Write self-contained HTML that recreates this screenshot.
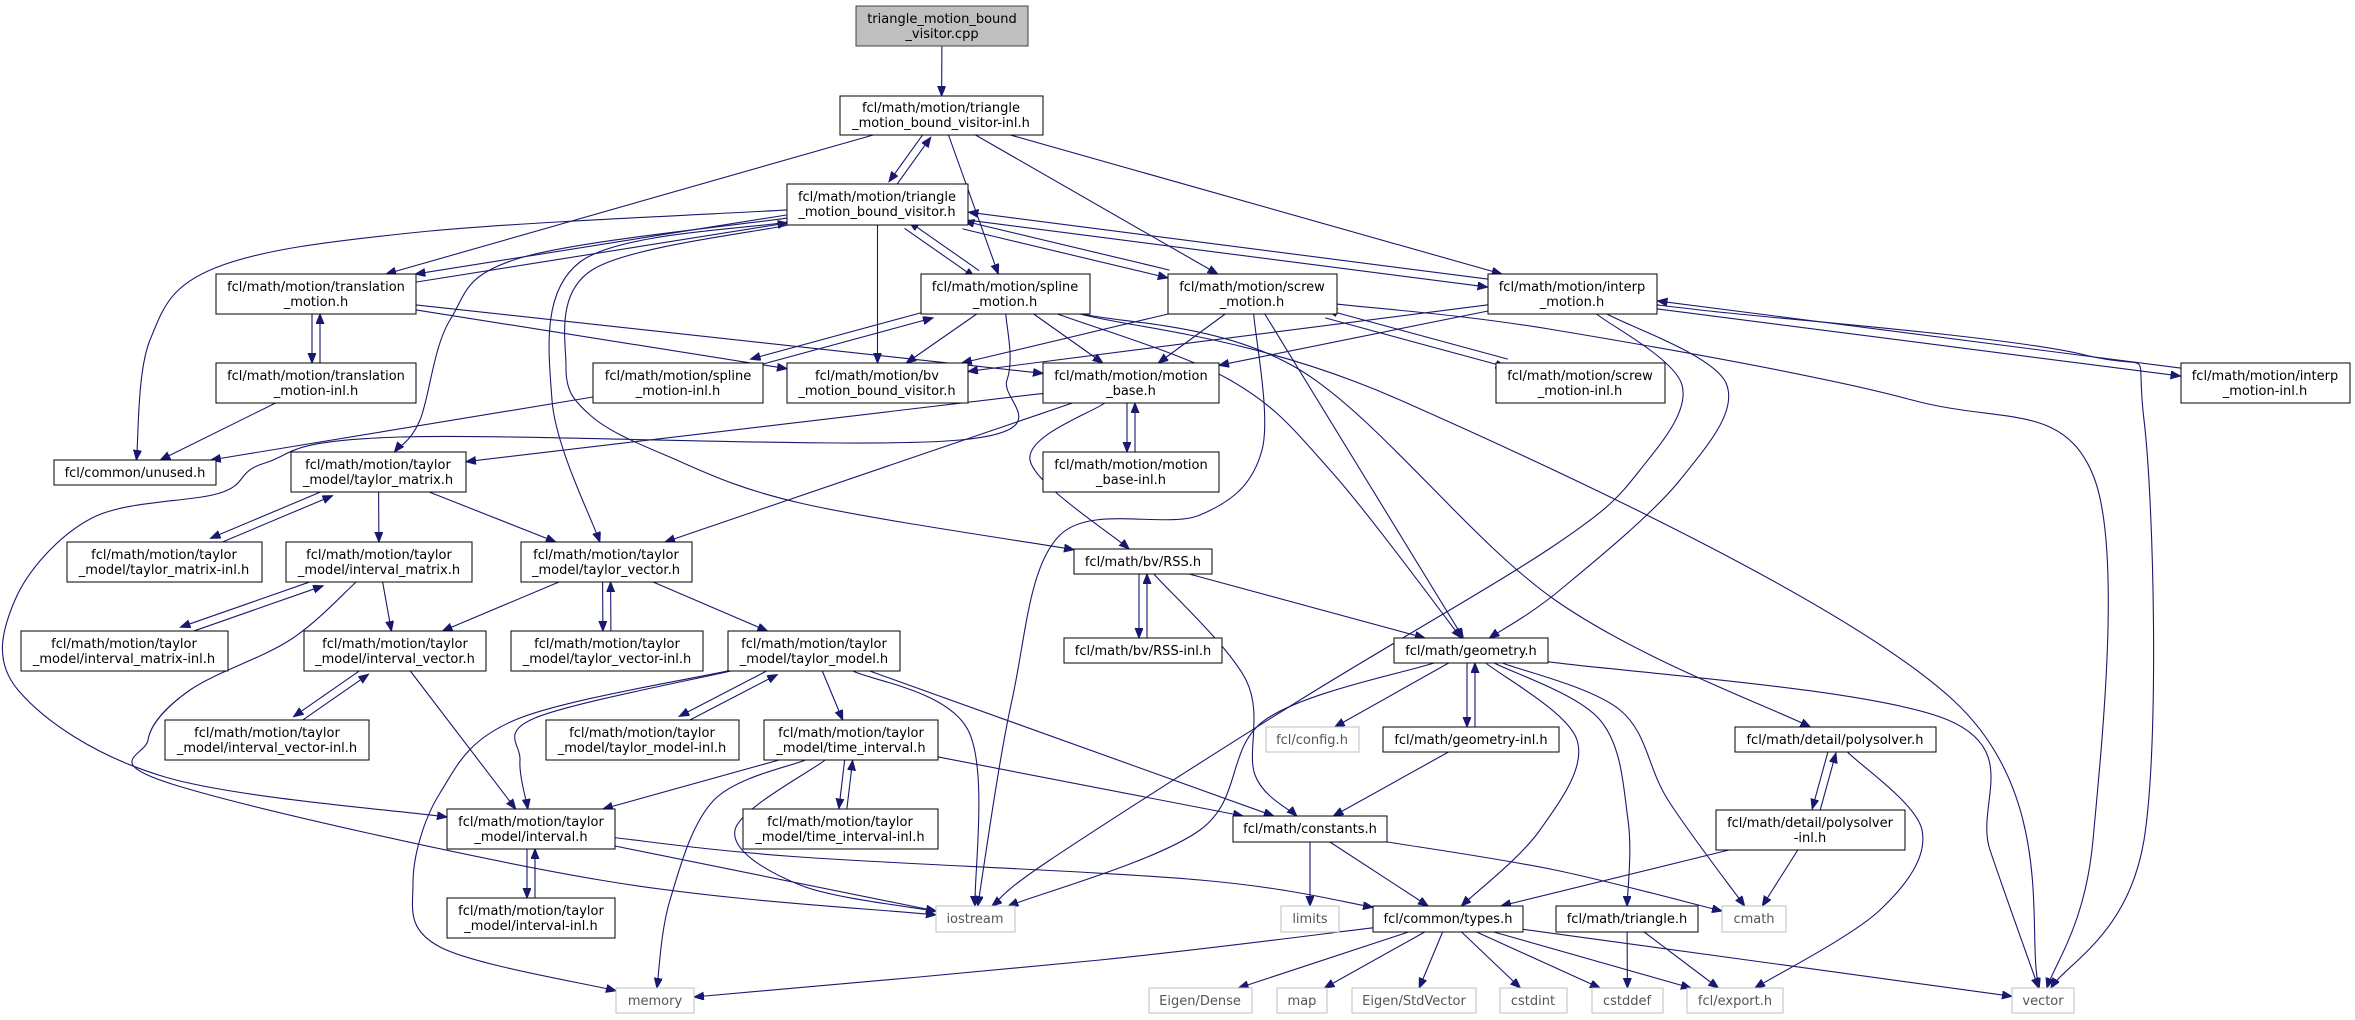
<!DOCTYPE html>
<html><head><meta charset="utf-8"><style>
html,body{margin:0;padding:0;background:#fff;}
svg{display:block;}
text{font-family:"DejaVu Sans","Liberation Sans",sans-serif;font-size:13px;fill:#000;}
.g text{fill:#555;}
</style></head><body>
<svg id="s" xmlns="http://www.w3.org/2000/svg" width="2355" height="1020" viewBox="0 0 2355 1020">
<defs><marker id="ar" markerUnits="userSpaceOnUse" markerWidth="12" markerHeight="10" refX="10" refY="4" orient="auto"><path d="M0,0L10,4L0,8z" fill="#191970" stroke="#191970"/></marker></defs>
<g id="edges" fill="none" stroke="#191970" stroke-width="1.1"></g>
<g id="nodes" text-anchor="middle">
<g><rect x="856" y="6" width="172" height="40" fill="#bfbfbf" stroke="#404040"/><text x="942" y="23">triangle_motion_bound</text><text x="942" y="38">_visitor.cpp</text></g>
<g><rect x="840" y="96" width="203" height="39" fill="#fff" stroke="#000"/><text x="941" y="112">fcl/math/motion/triangle</text><text x="941" y="127">_motion_bound_visitor-inl.h</text></g>
<g><rect x="787" y="184" width="181" height="41" fill="#fff" stroke="#000"/><text x="877" y="201">fcl/math/motion/triangle</text><text x="877" y="216">_motion_bound_visitor.h</text></g>
<g><rect x="216" y="274" width="200" height="40" fill="#fff" stroke="#000"/><text x="316" y="291">fcl/math/motion/translation</text><text x="316" y="306">_motion.h</text></g>
<g><rect x="216" y="363" width="200" height="40" fill="#fff" stroke="#000"/><text x="316" y="380">fcl/math/motion/translation</text><text x="316" y="395">_motion-inl.h</text></g>
<g><rect x="921" y="274" width="169" height="40" fill="#fff" stroke="#000"/><text x="1005" y="291">fcl/math/motion/spline</text><text x="1005" y="306">_motion.h</text></g>
<g><rect x="593" y="363" width="170" height="40" fill="#fff" stroke="#000"/><text x="678" y="380">fcl/math/motion/spline</text><text x="678" y="395">_motion-inl.h</text></g>
<g><rect x="1168" y="274" width="169" height="40" fill="#fff" stroke="#000"/><text x="1252" y="291">fcl/math/motion/screw</text><text x="1252" y="306">_motion.h</text></g>
<g><rect x="1496" y="363" width="169" height="40" fill="#fff" stroke="#000"/><text x="1580" y="380">fcl/math/motion/screw</text><text x="1580" y="395">_motion-inl.h</text></g>
<g><rect x="1488" y="274" width="169" height="40" fill="#fff" stroke="#000"/><text x="1572" y="291">fcl/math/motion/interp</text><text x="1572" y="306">_motion.h</text></g>
<g><rect x="2181" y="363" width="169" height="40" fill="#fff" stroke="#000"/><text x="2265" y="380">fcl/math/motion/interp</text><text x="2265" y="395">_motion-inl.h</text></g>
<g><rect x="787" y="363" width="181" height="40" fill="#fff" stroke="#000"/><text x="877" y="380">fcl/math/motion/bv</text><text x="877" y="395">_motion_bound_visitor.h</text></g>
<g><rect x="1043" y="363" width="176" height="40" fill="#fff" stroke="#000"/><text x="1131" y="380">fcl/math/motion/motion</text><text x="1131" y="395">_base.h</text></g>
<g><rect x="1043" y="452" width="176" height="40" fill="#fff" stroke="#000"/><text x="1131" y="469">fcl/math/motion/motion</text><text x="1131" y="484">_base-inl.h</text></g>
<g><rect x="54" y="460" width="162" height="25" fill="#fff" stroke="#000"/><text x="135" y="477">fcl/common/unused.h</text></g>
<g><rect x="291" y="452" width="175" height="40" fill="#fff" stroke="#000"/><text x="378" y="469">fcl/math/motion/taylor</text><text x="378" y="484">_model/taylor_matrix.h</text></g>
<g><rect x="67" y="542" width="195" height="40" fill="#fff" stroke="#000"/><text x="164" y="559">fcl/math/motion/taylor</text><text x="164" y="574">_model/taylor_matrix-inl.h</text></g>
<g><rect x="286" y="542" width="186" height="40" fill="#fff" stroke="#000"/><text x="379" y="559">fcl/math/motion/taylor</text><text x="379" y="574">_model/interval_matrix.h</text></g>
<g><rect x="521" y="542" width="171" height="40" fill="#fff" stroke="#000"/><text x="606" y="559">fcl/math/motion/taylor</text><text x="606" y="574">_model/taylor_vector.h</text></g>
<g><rect x="21" y="631" width="207" height="40" fill="#fff" stroke="#000"/><text x="124" y="648">fcl/math/motion/taylor</text><text x="124" y="663">_model/interval_matrix-inl.h</text></g>
<g><rect x="304" y="631" width="182" height="40" fill="#fff" stroke="#000"/><text x="395" y="648">fcl/math/motion/taylor</text><text x="395" y="663">_model/interval_vector.h</text></g>
<g><rect x="511" y="631" width="192" height="40" fill="#fff" stroke="#000"/><text x="607" y="648">fcl/math/motion/taylor</text><text x="607" y="663">_model/taylor_vector-inl.h</text></g>
<g><rect x="728" y="631" width="172" height="40" fill="#fff" stroke="#000"/><text x="814" y="648">fcl/math/motion/taylor</text><text x="814" y="663">_model/taylor_model.h</text></g>
<g><rect x="165" y="720" width="204" height="40" fill="#fff" stroke="#000"/><text x="267" y="737">fcl/math/motion/taylor</text><text x="267" y="752">_model/interval_vector-inl.h</text></g>
<g><rect x="546" y="720" width="193" height="40" fill="#fff" stroke="#000"/><text x="642" y="737">fcl/math/motion/taylor</text><text x="642" y="752">_model/taylor_model-inl.h</text></g>
<g><rect x="764" y="720" width="174" height="40" fill="#fff" stroke="#000"/><text x="851" y="737">fcl/math/motion/taylor</text><text x="851" y="752">_model/time_interval.h</text></g>
<g><rect x="447" y="809" width="168" height="40" fill="#fff" stroke="#000"/><text x="531" y="826">fcl/math/motion/taylor</text><text x="531" y="841">_model/interval.h</text></g>
<g><rect x="743" y="809" width="195" height="40" fill="#fff" stroke="#000"/><text x="840" y="826">fcl/math/motion/taylor</text><text x="840" y="841">_model/time_interval-inl.h</text></g>
<g><rect x="447" y="898" width="168" height="40" fill="#fff" stroke="#000"/><text x="531" y="915">fcl/math/motion/taylor</text><text x="531" y="930">_model/interval-inl.h</text></g>
<g><rect x="1074" y="549" width="138" height="25" fill="#fff" stroke="#000"/><text x="1143" y="566">fcl/math/bv/RSS.h</text></g>
<g><rect x="1064" y="638" width="158" height="25" fill="#fff" stroke="#000"/><text x="1143" y="655">fcl/math/bv/RSS-inl.h</text></g>
<g><rect x="1394" y="638" width="154" height="25" fill="#fff" stroke="#000"/><text x="1471" y="655">fcl/math/geometry.h</text></g>
<g><rect x="1383" y="727" width="176" height="25" fill="#fff" stroke="#000"/><text x="1471" y="744">fcl/math/geometry-inl.h</text></g>
<g><rect x="1233" y="816" width="154" height="26" fill="#fff" stroke="#000"/><text x="1310" y="833">fcl/math/constants.h</text></g>
<g><rect x="1373" y="906" width="150" height="26" fill="#fff" stroke="#000"/><text x="1448" y="923">fcl/common/types.h</text></g>
<g><rect x="1735" y="727" width="201" height="25" fill="#fff" stroke="#000"/><text x="1835" y="744">fcl/math/detail/polysolver.h</text></g>
<g><rect x="1716" y="810" width="189" height="40" fill="#fff" stroke="#000"/><text x="1810" y="827">fcl/math/detail/polysolver</text><text x="1810" y="842">-inl.h</text></g>
<g><rect x="1556" y="906" width="142" height="26" fill="#fff" stroke="#000"/><text x="1627" y="923">fcl/math/triangle.h</text></g>
<g class="g">
<rect x="1266" y="727" width="93" height="25" fill="#fff" stroke="#bfbfbf"/><text x="1312" y="744">fcl/config.h</text>
<rect x="616" y="988" width="78" height="25" fill="#fff" stroke="#bfbfbf"/><text x="655" y="1005">memory</text>
<rect x="936" y="906" width="79" height="26" fill="#fff" stroke="#bfbfbf"/><text x="975" y="923">iostream</text>
<rect x="1281" y="906" width="58" height="26" fill="#fff" stroke="#bfbfbf"/><text x="1310" y="923">limits</text>
<rect x="1722" y="906" width="64" height="26" fill="#fff" stroke="#bfbfbf"/><text x="1754" y="923">cmath</text>
<rect x="1149" y="988" width="103" height="25" fill="#fff" stroke="#bfbfbf"/><text x="1200" y="1005">Eigen/Dense</text>
<rect x="1277" y="988" width="50" height="25" fill="#fff" stroke="#bfbfbf"/><text x="1302" y="1005">map</text>
<rect x="1352" y="988" width="124" height="25" fill="#fff" stroke="#bfbfbf"/><text x="1414" y="1005">Eigen/StdVector</text>
<rect x="1500" y="988" width="67" height="25" fill="#fff" stroke="#bfbfbf"/><text x="1533" y="1005">cstdint</text>
<rect x="1592" y="988" width="71" height="25" fill="#fff" stroke="#bfbfbf"/><text x="1627" y="1005">cstddef</text>
<rect x="1687" y="988" width="96" height="25" fill="#fff" stroke="#bfbfbf"/><text x="1735" y="1005">fcl/export.h</text>
<rect x="2012" y="988" width="62" height="25" fill="#fff" stroke="#bfbfbf"/><text x="2043" y="1005">vector</text>
</g>
</g>
</svg>
<script>
var N={cpp:[856,6,1028,46],tinl:[840,96,1043,135],tmbv:[787,184,968,225],trans:[216,274,416,314],transinl:[216,363,416,403],
spline:[921,274,1090,314],splineinl:[593,363,763,403],screw:[1168,274,1337,314],screwinl:[1496,363,1665,403],interp:[1488,274,1657,314],interpinl:[2181,363,2350,403],
bv:[787,363,968,403],mb:[1043,363,1219,403],mbinl:[1043,452,1219,492],unused:[54,460,216,485],tm:[291,452,466,492],tminl:[67,542,262,582],im:[286,542,472,582],
tv:[521,542,692,582],iminl:[21,631,228,671],iv:[304,631,486,671],tvinl:[511,631,703,671],tmod:[728,631,900,671],ivinl:[165,720,369,760],tmodinl:[546,720,739,760],
ti:[764,720,938,760],ival:[447,809,615,849],tiinl:[743,809,938,849],ivalinl:[447,898,615,938],memory:[616,988,694,1013],rss:[1074,549,1212,574],rssinl:[1064,638,1222,663],
geom:[1394,638,1548,663],geominl:[1383,727,1559,752],config:[1266,727,1359,752],consts:[1233,816,1387,842],iostream:[936,906,1015,932],limits:[1281,906,1339,932],
types:[1373,906,1523,932],dense:[1149,988,1252,1013],map:[1277,988,1327,1013],stdvec:[1352,988,1476,1013],cstdint:[1500,988,1567,1013],poly:[1735,727,1936,752],
polyinl:[1716,810,1905,850],tri:[1556,906,1698,932],cmath:[1722,906,1786,932],cstddef:[1592,988,1663,1013],exp:[1687,988,1783,1013],vector:[2012,988,2074,1013]};
var E=[["cpp","tinl"],["tinl","trans"],["tinl","tmbv"],["tinl","spline"],["tinl","screw"],["tinl","interp"],
["tmbv","tinl"],["tmbv","unused",[[420,232],[215,268],[150,340]]],["tmbv","trans"],["tmbv","spline"],["tmbv","screw"],["tmbv","interp"],["tmbv","bv"],
["tmbv","tm",[[520,258],[450,320],[420,420]]],["tmbv","tv",[[580,262],[552,400]]],["tmbv","rss",[[592,270],[566,367],[590,415],[665,455],[800,503]]],
["trans","tmbv"],["trans","transinl"],["trans","bv"],["trans","mb"],["transinl","trans"],["transinl","unused"],
["spline","tmbv"],["spline","splineinl"],["spline","bv"],["spline","mb"],["spline","ival",[[1007,380],[960,440],[400,437],[265,463],[220,493],[92,518],[15,600],[18,690],[165,777]]],
["spline","geom",[[1230,380],[1330,470]]],["spline","poly",[[1300,370],[1555,600]]],["spline","vector",[[1400,400],[1953,700]]],["splineinl","spline"],["splineinl","unused"],
["screw","tmbv"],["screw","screwinl"],["screw","bv"],["screw","mb"],["screw","geom"],["screw","iostream",[[1262,450],[1200,515],[1060,535],[1012,700]]],
["screw","vector",[[1555,330],[1912,400],[2093,475],[2093,840]]],["screwinl","screw"],
["interp","tmbv"],["interp","interpinl"],["interp","bv"],["interp","mb"],["interp","geom",[[1726,383],[1680,480],[1560,590]]],
["interp","iostream",[[1682,385],[1640,470],[1555,545],[1300,700],[1050,860]]],["interp","vector",[[1700,310],[2085,355],[2144,420],[2144,840]]],["interpinl","interp"],
["mb","mbinl"],["mb","tm"],["mb","tv"],["mb","rss",[[1030,460]]],["mbinl","mb"],
["tm","tminl"],["tm","im"],["tm","tv"],["tminl","tm"],["im","iminl"],["im","iv"],["im","iostream",[[290,640],[190,690],[148,740],[175,785],[600,880]]],["iminl","im"],
["tv","iv"],["tv","tvinl"],["tv","tmod"],["tvinl","tv"],["iv","ivinl"],["iv","ival"],["ivinl","iv"],
["tmod","tmodinl"],["tmod","ti"],["tmod","ival",[[535,718],[520,760]]],["tmod","memory",[[515,720],[440,793],[413,883],[440,947]]],["tmod","iostream",[[968,730]]],["tmod","consts"],["tmodinl","tmod"],
["ti","tiinl"],["ti","ival"],["ti","memory",[[714,800],[670,900]]],["ti","iostream",[[735,830],[800,885]]],["ti","consts"],["tiinl","ti"],
["ival","ivalinl"],["ival","iostream"],["ival","types",[[800,857],[1200,880]]],["ivalinl","ival"],
["rss","rssinl"],["rss","consts",[[1246,680],[1255,775]]],["rss","geom"],["rssinl","rss"],
["geom","config"],["geom","geominl"],["geom","iostream",[[1265,720],[1200,830]]],["geom","types",[[1577,740],[1540,830]]],["geom","tri",[[1600,720],[1628,820]]],
["geom","cmath",[[1620,710],[1668,800]]],["geom","vector",[[1948,720],[1990,850]]],["geominl","geom"],["geominl","consts"],
["consts","limits"],["consts","types"],["consts","cmath",[[1555,870]]],["poly","polyinl"],["poly","exp",[[1922,830],[1880,910]]],
["polyinl","poly"],["polyinl","types"],["polyinl","cmath"],
["types","memory",[[1100,960]]],["types","dense"],["types","map"],["types","stdvec"],["types","cstdint"],["types","cstddef"],["types","exp"],["types","vector"],
["tri","cstddef"],["tri","exp"]];
function C(n){var r=N[n];return[(r[0]+r[2])/2,(r[1]+r[3])/2];}
function B(n,p,q){var r=N[n],hw=(r[2]-r[0])/2,hh=(r[3]-r[1])/2,dx=q[0]-p[0],dy=q[1]-p[1];
var t=Math.min(dx?hw/Math.abs(dx):1e9,dy?hh/Math.abs(dy):1e9);return[p[0]+dx*t,p[1]+dy*t];}
var has={};E.forEach(function(e){has[e[0]+"|"+e[1]]=1;});
var g=document.getElementById("edges"),out="";
E.forEach(function(e){var a=e[0],b=e[1],w=e[2]||[];var ca=C(a),cb=C(b),pts;
if(!w.length){var s=B(a,ca,cb),t=B(b,cb,ca);
if(has[b+"|"+a]){var k=a<b?[a,b]:[b,a];var p=C(k[0]),q=C(k[1]);var dx=q[0]-p[0],dy=q[1]-p[1],L=Math.hypot(dx,dy);
var nx=-dy/L*4,ny=dx/L*4,sg=a<b?1:-1;s=[s[0]+nx*sg,s[1]+ny*sg];t=[t[0]+nx*sg,t[1]+ny*sg];}
out+='<path d="M'+s[0].toFixed(1)+','+s[1].toFixed(1)+'L'+t[0].toFixed(1)+','+t[1].toFixed(1)+'" marker-end="url(#ar)"/>';return;}
var s=B(a,ca,w[0]),t=B(b,cb,w[w.length-1]);pts=[s].concat(w,[t]);
var d="M"+s[0]+","+s[1];for(var i=0;i<pts.length-1;i++){var p0=pts[i-1]||pts[i],p1=pts[i],p2=pts[i+1],p3=pts[i+2]||p2;
var c1=[p1[0]+(p2[0]-p0[0])/6,p1[1]+(p2[1]-p0[1])/6],c2=[p2[0]-(p3[0]-p1[0])/6,p2[1]-(p3[1]-p1[1])/6];
d+="C"+c1[0].toFixed(1)+","+c1[1].toFixed(1)+" "+c2[0].toFixed(1)+","+c2[1].toFixed(1)+" "+p2[0].toFixed(1)+","+p2[1].toFixed(1);}
out+='<path d="'+d+'" marker-end="url(#ar)"/>';});
g.innerHTML=out;
</script>
</body></html>
